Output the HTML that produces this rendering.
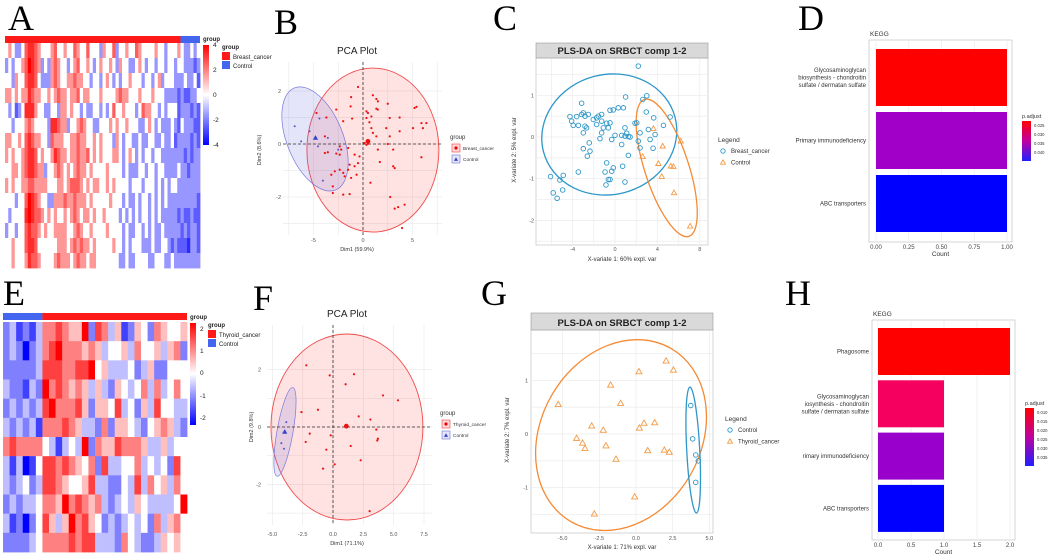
<!DOCTYPE html>
<html><head><meta charset="utf-8"><style>
html,body{margin:0;padding:0;background:#fff;}
svg{display:block;font-family:"Liberation Sans",sans-serif;}
.L{font-family:"Liberation Serif",serif;font-size:36px;fill:#000;}
</style></head><body>
<svg id="fig" width="1059" height="560" viewBox="0 0 1059 560" xmlns="http://www.w3.org/2000/svg">
<defs>
<linearGradient id="gA" x1="0" y1="0" x2="0" y2="1"><stop offset="0" stop-color="#ff0000"/><stop offset="0.5" stop-color="#ffffff"/><stop offset="1" stop-color="#0000ff"/></linearGradient>
<linearGradient id="gP" x1="0" y1="0" x2="0" y2="1"><stop offset="0" stop-color="#ff0000"/><stop offset="0.5" stop-color="#c000a0"/><stop offset="1" stop-color="#2020ff"/></linearGradient>
</defs>
<text class="L" x="8" y="30">A</text>
<text class="L" x="274" y="34">B</text>
<text class="L" x="493" y="30">C</text>
<text class="L" x="798" y="30">D</text>
<text class="L" x="3" y="305">E</text>
<text class="L" x="253" y="310">F</text>
<text class="L" x="481" y="305">G</text>
<text class="L" x="785" y="305">H</text>
</svg>
<script>
// ---------- DATA ----------
const heatA=[
"4543346776 5444564454 4654464443 5446344544 6544445443 4445433434",
"3434456876 5343565443 4564454345 4454354433 4543443443 4434433323",
"4435446776 4333565445 5655443443 4543434454 4434434534 4433343342",
"5545455765 5445456554 5564554445 4444565544 4544454443 3332322334",
"4342347775 4433443554 5443433443 4346445444 3465544343 4442333232",
"4434445654 4443776553 4456544334 4454544544 4334543433 3432433322",
"5544546765 5443655544 5565544545 4443543443 3433443343 3423333232",
"5454456776 4544576554 5565564545 4445543454 3434434433 3333323233",
"4455456776 5534456545 4565545444 4544443433 3443443443 3334332333",
"5454455665 5554445545 6665454554 4545444434 4434443434 3443333333",
"4443446876 5443355565 5655545444 4454443433 4344343434 3333333332",
"4344447876 6545454454 5654554544 5444434343 4344343433 3332322322",
"3443446766 5454455554 4565445444 4544443433 4434343343 3333232332",
"4454446776 4444445554 5656554544 4445443434 4433343344 3232221332",
"4454445766 5444456555 4565545544 4444433433 4444334443 3433333333"];
const heatAControlCols=6;
const heatE=[
"231213 6676558276351254265445",
"232023 6786665653445364453562",
"222223 7776677845333423522444",
"322132 8676565353254346363464",
"232323 7866675255473425374433",
"323231 6667653326255432456532",
"676666 4313438265576665335344",
"313014 7767654627334463434274",
"323423 7765445733224373645364",
"232334 6658676563234354333348",
"312024 7535867542323434263564",
"222234 6666767733326432235454"];
const heatEControlCols=6;

const bRedX=[-0.5,1,1.35,1.5,-1.2,2.5,5.4,5.2,-1.25,0.35,0.5,1.35,1.5,-2.7,-1.1,0.35,0.85,2.7,3.7,-2,0.65,5.9,6.4,5.05,6.05,0.85,1,1.35,2.35,2.7,3.7,0.15,0.35,0.5,2.5,1.5,3.05,-2.2,-1.5,-3.85,-3.55,-2.7,-2.35,-0.85,-0.35,-1.35,-0.85,-1.5,-0.5,-2.85,-2.35,-2,-1.85,-0.65,1.7,3.05,3.2,5.9,-3.2,-1.2,-3.05,0.75,-2,-1.35,-3.05,2.75,3.55,3.2,4.2,3.95,-3.85,-4.7,-3.7,-2.35];
const bRedY=[2.15,1.84,1.7,1.61,1.77,1.52,1.4,1.36,1.42,1.23,1.17,1.33,1.3,1.3,0.96,0.98,1.04,0.98,1.0,0.86,0.82,0.79,0.79,0.6,0.6,0.6,0.42,0.29,0.6,0.29,0.48,0.04,-0.03,0.01,0,-0.21,-0.21,-0.21,-0.15,-0.34,-0.31,-0.36,-0.4,-0.4,-0.47,-0.78,-0.84,-0.97,-0.72,-1.03,-0.97,-1.09,-1.22,-1.16,-0.68,-0.84,-0.91,-0.5,-1.16,-1.28,-1.6,-1.46,-1.91,-1.89,-1.85,-2.0,-2.38,-2.44,-2.29,-3.17,0.29,1.17,1.0,-0.09];
const bBlueX=[-6.9,-6.25,-5.4,-3.55,-4.4,-2.5,-4.05,-4.55];
const bBlueY=[0.67,0.1,0.48,0.23,0.96,-0.21,-1.38,-0.09];
const bCentroids=[[0.5,0.1,'red'],[-4.8,0.23,'blue']];

const cBlueX=[2.2,1.0,3.0,2.63,-3.15,-4.25,-3.62,-3.15,-2.99,-2.83,-2.52,-1.73,-1.57,-1.26,-0.47,-0.16,0.31,0.79,-1.26,-0.79,-0.47,-4.09,-3.94,-3.46,-2.83,-2.68,-1.1,-0.63,-1.73,-2.05,2.05,1.89,2.95,3.65,4.57,5.2,0.94,1.1,1.26,0.94,1.42,0,0.63,-1.26,-1.42,-0.31,0.63,2.36,3.15,3.78,3.31,-2.99,2.2,-2.43,-2.99,-2.36,-2.61,2.36,1.26,3.59,-0.79,-0.16,-0.31,0.72,-0.94,-3.46,-0.47,-0.63,0.94,-0.85,-4.88,-5.2,-6.08,-4.94,-5.83,-5.46];
const cBlueY=[1.7,0.96,0.99,0.9,0.81,0.49,0.49,0.54,0.58,0.5,0.54,0.46,0.5,0.54,0.64,0.65,0.7,0.7,0.38,0.33,0.34,0.38,0.28,0.28,0.26,0.22,0.22,0.22,0.3,0.42,0.34,0.33,0.6,0.46,0.28,0.48,0.22,0.09,0.01,0.02,0,0.04,0.04,0.1,-0.04,-0.06,-0.18,0.1,0.18,0.06,-0.06,0.1,-0.1,-0.14,-0.28,-0.34,-0.46,-0.26,-0.44,-0.27,-0.62,-0.74,-0.82,-0.7,-0.84,-0.84,-1.02,-1.02,-1.08,-1.15,-0.92,-1.03,-0.95,-1.27,-1.34,-1.47];
const cOrX=[2.61,4.5,6.2,4.09,4.41,5.26,5.51,5.57,7.09,3.62];
const cOrY=[-0.47,-0.22,-0.1,-0.64,-0.95,-0.7,-0.71,-1.34,-2.14,0.2];

const fRedX=[-2.2,-0.27,1.73,1.04,4.12,5.36,-2.6,-1.24,2.12,3.08,3.57,3.7,3.65,-1.92,-2.25,-0.19,1.46,-0.55,2.28,0.14,-0.82,3.02];
const fRedY=[2.15,1.8,1.84,1.49,1.1,0.93,0.52,0.6,0.37,0.26,-0.09,-0.41,-0.47,-0.23,-0.52,-0.29,-0.66,-0.79,-1.16,-1.3,-1.45,-2.93];
const fBlueX=[-3.85,-4.26,-4.04];
const fBlueY=[0.17,-0.56,-0.76];
const fCentroids=[[1.1,0.03,'red'],[-3.98,-0.17,'blue']];

const gOrX=[-5.3,-1.73,0.2,2.05,2.55,-1.05,-3.02,-2.23,-4.05,-3.64,-3.48,-2.05,-1.36,0.23,0.55,1.27,0.8,1.93,2.27,-0.09,-2.84];
const gOrY=[0.55,0.91,1.16,1.36,1.19,0.57,0.15,0.07,-0.08,-0.17,-0.27,-0.22,-0.47,0.11,0.2,0.21,-0.31,-0.3,-0.34,-1.17,-1.49];
const gBlueX=[3.73,3.86,4.07,4.25,4.07];
const gBlueY=[0.53,-0.09,-0.39,-0.5,-0.9];

const dTerms=[["Glycosaminoglycan","biosynthesis - chondroitin","sulfate / dermatan sulfate"],["Primary immunodeficiency"],["ABC transporters"]];
const dCounts=[1,1,1];
const dColors=["#ff0000","#a000c8","#0000ff"];
const dTicks=["0.00","0.25","0.50","0.75","1.00"];
const dLegend=['0.025','0.030','0.035','0.040'];
const hTerms=[["Phagosome"],["Glycosaminoglycan","iosynthesis - chondroitin","sulfate / dermatan sulfate"],["rimary immunodeficiency"],["ABC transporters"]];
const hCounts=[2,1,1,1];
const hColors=["#ff0000","#f5005f","#9a00cc","#0000ff"];
const hTicks=["0.0","0.5","1.0","1.5","2.0"];
const hLegend=['0.010','0.015','0.020','0.025','0.030','0.035'];

// ---------- HELPERS ----------
const svg=document.getElementById('fig');
const NS='http://www.w3.org/2000/svg';
function mk(tag,attrs){const e=document.createElementNS(NS,tag);for(const k in attrs)e.setAttribute(k,attrs[k]);svg.appendChild(e);return e;}
function tx(x,y,s,size,anchor,extra){const e=mk('text',Object.assign({x:x,y:y,'font-size':size,'text-anchor':anchor||'start',fill:'#333'},extra||{}));e.textContent=s;return e;}
function divColor(t){t=Math.max(-1,Math.min(1,t));if(t>=0){const g=Math.round(255*(1-t));return `rgb(255,${g},${g})`;}const g=Math.round(255*(1+t));return `rgb(${g},${g},255)`;}

// ---------- HEATMAPS ----------
function heatmap(rows,x0,y0,w,h,scale,half,gamma,ctrlCols,ctrlFirst,barY,name){
  const R=rows.map(r=>r.replace(/ /g,''));
  R.forEach((r,i)=>{const cw=w/r.length, rh=h/R.length;for(let j=0;j<r.length;j++){
    const v=(parseInt(r[j])-4)/scale;
    let tt=v/half; tt=Math.sign(tt)*Math.pow(Math.abs(tt),gamma);
    const c=mk('rect',{x:x0+j*cw,y:y0+i*rh,width:cw+0.4,height:rh+0.4,fill:divColor(tt)});
    
    
  }});
  const ctrlW=ctrlCols*w/R[0].length;
  const a=mk('rect',{x:ctrlFirst?x0:x0+w-ctrlW,y:barY,width:ctrlW,height:7,fill:'#4466ee'});
  
  
  const b=mk('rect',{x:ctrlFirst?x0+ctrlW:x0,y:barY,width:w-ctrlW,height:7,fill:'#ff1a1a'});
  
  
}
heatmap(heatA,5,43,195,225,1,4,0.65,heatAControlCols,false,36,'heatmap-a');
heatmap(heatE,3,322,184,230,2,2,1,heatEControlCols,true,313,'heatmap-e');

function heatLegend(x,y,y2,labels,ly,cancerName,lx,lyy){
  const cb=mk('rect',{x:x,y:y,width:6,height:y2-y,fill:'url(#gA)'});
  
  
  labels.forEach((l,i)=>{const t=tx(x+10,ly[i]+2,l,6.5,'start',{fill:'#222'});
    
    });
  const g1=tx(x,y-4,'group',6,'start',{fill:'#222','font-weight':'bold'});
  
  
  const g2=tx(lx,lyy,'group',6,'start',{fill:'#222','font-weight':'bold'});
  
  
  const s1=mk('rect',{x:lx,y:lyy+3,width:8,height:8,fill:'#ff1a1a'});
  
  
  const s2=mk('rect',{x:lx,y:lyy+12,width:8,height:8,fill:'#4466ee'});
  
  
  const t1=tx(lx+11,lyy+10,cancerName,6,'start',{fill:'#222'});
  
  
  const t2=tx(lx+11,lyy+19,'Control',6,'start',{fill:'#222'});
  
  
}
heatLegend(203,45,145,['4','2','0','-2','-4'],[45,70,95,120,145],'Breast_cancer',222,49);
heatLegend(190,323,425,['2','1','0','-1','-2'],[329,351,373,396,418],'Thyroid_cancer',208,327);

// ---------- SCATTER PANELS ----------
function grid(x0,y0,x1,y1,xs,ys,sx,sy,name,border){
  const bg=mk('rect',{x:x0,y:y0,width:x1-x0,height:y1-y0,fill:'#fff',stroke:border?'#bbb':'none','stroke-width':0.6});
  
  
  xs.forEach(v=>{const l=mk('line',{x1:sx(v),x2:sx(v),y1:y0,y2:y1,stroke:'#ebebeb','stroke-width':0.7});
    
    });
  ys.forEach(v=>{const l=mk('line',{x1:x0,x2:x1,y1:sy(v),y2:sy(v),stroke:'#ebebeb','stroke-width':0.7});
    
    });
}
function ticks(xt,yt,sx,sy,xAt,yAt,name){
  xt.forEach(v=>{const t=tx(sx(v[0]),xAt,v[1],5.5,'middle',{fill:'#555'});
    
    });
  yt.forEach(v=>{const t=tx(yAt,sy(v[0])+2,v[1],5.5,'end',{fill:'#555'});
    
    });
}
function ell(cx,cy,rx,ry,rot,stroke,fill,sw,name){
  const e=mk('ellipse',{cx:cx,cy:cy,rx:rx,ry:ry,transform:`rotate(${rot} ${cx} ${cy})`,stroke:stroke,fill:fill,'stroke-width':sw});
  
  
}
function dots(X,Y,sx,sy,color,r,name){
  X.forEach((v,i)=>{const c=mk('circle',{cx:sx(v),cy:sy(Y[i]),r:r,fill:color});
    
    });
}
function tri(x,y,s,color,fill,sw){return mk('path',{d:`M${x} ${y-s} L${x+s*0.95} ${y+s*0.65} L${x-s*0.95} ${y+s*0.65} Z`,stroke:color,fill:fill,'stroke-width':sw});}
function tris(X,Y,sx,sy,color,s,fill,sw,name){
  X.forEach((v,i)=>{const t=tri(sx(v),sy(Y[i]),s,color,fill,sw);
    
    });
}
function rings(X,Y,sx,sy,color,r,name){
  X.forEach((v,i)=>{const c=mk('circle',{cx:sx(v),cy:sy(Y[i]),r:r,fill:'none',stroke:color,'stroke-width':0.9});
    
    });
}
function pcaLegend(x,y,cancerName){
  const g=tx(x,y,'group',6,'start',{fill:'#333'});
  
  
  const k1=mk('rect',{x:x+2,y:y+5,width:8,height:8,fill:'rgba(255,0,0,0.15)',stroke:'#f04040','stroke-width':0.6});
  
  
  const d1=mk('circle',{cx:x+6,cy:y+9,r:1.6,fill:'#ee0000'});
  
  
  const k2=mk('rect',{x:x+2,y:y+16,width:8,height:8,fill:'rgba(90,90,230,0.15)',stroke:'#7070d0','stroke-width':0.6});
  
  
  const d2=tri(x+6,y+20.5,2.2,'none','#3344cc',0);
  
  
  const t1=tx(x+13,y+11,cancerName,4.8,'start',{fill:'#333'});
  
  
  const t2=tx(x+13,y+22,'Control',4.8,'start',{fill:'#333'});
  
  
}

// Panel B
const bx=v=>363+v*9.9, by=v=>144-v*26.5;
grid(283,62,442,235,[-7.5,-5,-2.5,0,2.5,5,7.5],[-3,-2,-1,0,1,2],bx,by,'pca-b',false);
ell(bx(1.0),by(-0.23),66,82,0,'#f04a4a','rgba(255,60,60,0.15)',0.9,'pca-b-ellipse-cancer');
ell(bx(-4.85),by(0.19),28,55,-22,'#7878d8','rgba(110,110,230,0.18)',0.7,'pca-b-ellipse-control');
const bv=mk('line',{x1:bx(0),x2:bx(0),y1:62,y2:235,stroke:'#333','stroke-dasharray':'3,2','stroke-width':0.8});


const bh=mk('line',{x1:283,x2:442,y1:by(0),y2:by(0),stroke:'#333','stroke-dasharray':'3,2','stroke-width':0.8});


dots(bRedX,bRedY,bx,by,'#ee1111',1.1,'pca-b-point-cancer');
dots(bBlueX,bBlueY,bx,by,'#5555cc',1.0,'pca-b-point-control');
bCentroids.forEach(c=>{const e=c[2]==='red'?mk('circle',{cx:bx(c[0]),cy:by(c[1]),r:2.4,fill:'#ee1111'}):tri(bx(c[0]),by(c[1]),2.8,'none','#3344cc',0);
  
  });
ticks([[-5,'-5'],[0,'0'],[5,'5']],[[2,'2'],[0,'0'],[-2,'-2']],bx,by,242,281,'pca-b');
let t=tx(357,54,'PCA Plot',10,'middle',{fill:'#222'});


t=tx(357,251,'Dim1 (59.9%)',5.5,'middle',{fill:'#333'});


t=tx(0,0,'Dim2 (8.6%)',5.5,'middle',{fill:'#333',transform:'translate(261,150) rotate(-90)'});


pcaLegend(450,139,'Breast_cancer');

// Panel F
const fx=v=>333+v*12.13, fy=v=>427-v*28.7;
grid(267,325,432,525,[-5,-2.5,0,2.5,5,7.5],[-3,-2,-1,0,1,2],fx,fy,'pca-f',false);
ell(fx(1.15),fy(0),76,93,0,'#f04a4a','rgba(255,60,60,0.15)',0.9,'pca-f-ellipse-cancer');
ell(fx(-3.96),fy(-0.17),8,45,10,'#7878d8','rgba(110,110,230,0.18)',0.7,'pca-f-ellipse-control');
const fv=mk('line',{x1:fx(0),x2:fx(0),y1:325,y2:525,stroke:'#333','stroke-dasharray':'3,2','stroke-width':0.8});


const fh=mk('line',{x1:267,x2:432,y1:fy(0),y2:fy(0),stroke:'#333','stroke-dasharray':'3,2','stroke-width':0.8});


dots(fRedX,fRedY,fx,fy,'#ee1111',1.1,'pca-f-point-cancer');
dots(fBlueX,fBlueY,fx,fy,'#5555cc',1.0,'pca-f-point-control');
fCentroids.forEach(c=>{const e=c[2]==='red'?mk('circle',{cx:fx(c[0]),cy:fy(c[1]),r:2.4,fill:'#ee1111'}):tri(fx(c[0]),fy(c[1]),2.8,'none','#3344cc',0);
  
  });
ticks([[-5,'-5.0'],[-2.5,'-2.5'],[0,'0.0'],[2.5,'2.5'],[5,'5.0'],[7.5,'7.5']],[[2,'2'],[0,'0'],[-2,'-2']],fx,fy,536,261,'pca-f');
t=tx(347,317,'PCA Plot',10,'middle',{fill:'#222'});


t=tx(347,545,'Dim1 (71.1%)',5.5,'middle',{fill:'#333'});


t=tx(0,0,'Dim2 (9.8%)',5.5,'middle',{fill:'#333',transform:'translate(253,427) rotate(-90)'});


pcaLegend(440,415,'Thyroid_cancer');

// PLS-DA panels
function strip(x0,x1,y0,y1,name){
  const s=mk('rect',{x:x0,y:y0,width:x1-x0,height:y1-y0,fill:'#d9d9d9',stroke:'#999','stroke-width':0.6});
  
  
  const tt=tx((x0+x1)/2,y1-4,'PLS-DA on SRBCT comp 1-2',9.5,'middle',{fill:'#222','font-weight':'bold'});
  
  
}
function plsLegend(x,y,first,second){
  const l=tx(x,y,'Legend',6.5,'start',{fill:'#333'});
  
  
  const items=[[first,true],[second,false]];
  items.forEach((it,i)=>{const yy=y+11+i*11.5;
    const m=it[1]?mk('circle',{cx:x+5,cy:yy-2,r:2.2,fill:'none',stroke:'#2d9bd0','stroke-width':0.9}):tri(x+5,yy-2,2.6,'#f59a45','none',0.9);
    
    
    const s=tx(x+13,yy,it[0],6,'start',{fill:'#333'});
    
    });
}
// Panel C
const cx=v=>615+v*10.6, cy=v=>137-v*41.7;
grid(536,58,708,245,[-6,-4,-2,0,2,4,6,8],[-2.5,-2,-1.5,-1,-0.5,0,0.5,1,1.5],cx,cy,'plsda-c',true);
strip(536,708,43,58,'plsda-c');
ell(cx(-0.54),cy(0.06),68,60,-15,'#2e97c9','none',1.3,'plsda-c-ellipse-breast');
ell(cx(4.88),cy(-0.74),22,72,-18,'#f58a35','none',1.3,'plsda-c-ellipse-control');
rings(cBlueX,cBlueY,cx,cy,'#2e97c9',2.3,'plsda-c-point-breast');
tris(cOrX,cOrY,cx,cy,'#f59a45',2.8,'none',0.9,'plsda-c-point-control');
ticks([[-4,'-4'],[0,'0'],[4,'4'],[8,'8']],[[1,'1'],[0,'0'],[-1,'-1'],[-2,'-2']],cx,cy,251,534,'plsda-c');
t=tx(622,261,'X-variate 1: 60% expl. var',6,'middle',{fill:'#333'});


t=tx(0,0,'X-variate 2: 5% expl. var',6,'middle',{fill:'#333',transform:'translate(516,150) rotate(-90)'});


plsLegend(718,142,'Breast_cancer','Control');

// Panel G
const gx=v=>636+v*14.67, gy=v=>434-v*53.7;
grid(531,330,713,533,[-5,-2.5,0,2.5,5],[-1.5,-1,-0.5,0,0.5,1,1.5],gx,gy,'plsda-g',true);
strip(531,713,313,330,'plsda-g');
ell(gx(-1.02),gy(-0.02),80,100,30,'#f58a35','none',1.3,'plsda-g-ellipse-thyroid');
ell(gx(3.9),gy(-0.3),6.5,63,-3,'#2e97c9','none',1.3,'plsda-g-ellipse-control');
tris(gOrX,gOrY,gx,gy,'#f59a45',3.2,'none',0.9,'plsda-g-point-thyroid');
rings(gBlueX,gBlueY,gx,gy,'#2e97c9',2.3,'plsda-g-point-control');
ticks([[-5,'-5.0'],[-2.5,'-2.5'],[0,'0.0'],[2.5,'2.5'],[5,'5.0']],[[1,'1'],[0,'0'],[-1,'-1']],gx,gy,540,528,'plsda-g');
t=tx(622,549,'X-variate 1: 71% expl. var',6,'middle',{fill:'#333'});


t=tx(0,0,'X-variate 2: 7% expl. var',6,'middle',{fill:'#333',transform:'translate(509,430) rotate(-90)'});


plsLegend(725,421,'Control','Thyroid_cancer');

// ---------- KEGG BAR CHARTS ----------
function kegg(terms,counts,colors,tickLabels,maxV,x0,x1,y0,y1,xz,unit,barTop,barH,barGap,name,legY,legLabels){
  const box=mk('rect',{x:x0,y:y0,width:x1-x0,height:y1-y0,fill:'#fff',stroke:'#bbb','stroke-width':0.6});
  
  
  const sx=v=>xz+v*unit;
  tickLabels.forEach((l,i)=>{const v=maxV*i/(tickLabels.length-1);
    const g=mk('line',{x1:sx(v),x2:sx(v),y1:y0,y2:y1,stroke:'#ececec','stroke-width':0.7});
    
    
    const tl=tx(sx(v),y1+7,l,6,'middle',{fill:'#444'});
    
    });
  terms.forEach((lines,i)=>{const yT=barTop+i*(barH+barGap);
    const b=mk('rect',{x:sx(0),y:yT,width:sx(counts[i])-sx(0),height:barH,fill:colors[i]});
    
    
    const mid=yT+barH/2;
    lines.forEach((ln,k)=>{const tl=tx(x0-3,mid+2+(k-(lines.length-1)/2)*7.5,ln,6,'end',{fill:'#333'});
      
      });});
  let tt=tx(x0+1,y0-4,'KEGG',6.5,'start',{fill:'#333'});
  
  
  tt=tx((x0+x1)/2,y1+14,'Count',6.5,'middle',{fill:'#333'});
  
  
  tt=tx(x1+10,legY-3,'p.adjust',5.5,'start',{fill:'#333'});
  
  
  const cb=mk('rect',{x:x1+10,y:legY,width:9,height:legLabels.length*9+4,fill:'url(#gP)'});
  
  
  legLabels.forEach((l,i)=>{const tl=tx(x1+22,legY+6+i*9,l,4.2,'start',{fill:'#333'});
    
    });
}
kegg(dTerms,dCounts,dColors,dTicks,1,869,1012,40,242,876,131,49,57,6,'kegg-d',121,dLegend);
kegg(hTerms,hCounts,hColors,hTicks,2,872,1015,320,540,878,66,328,47,5.3,'kegg-h',408,hLegend);
</script>
</body></html>
